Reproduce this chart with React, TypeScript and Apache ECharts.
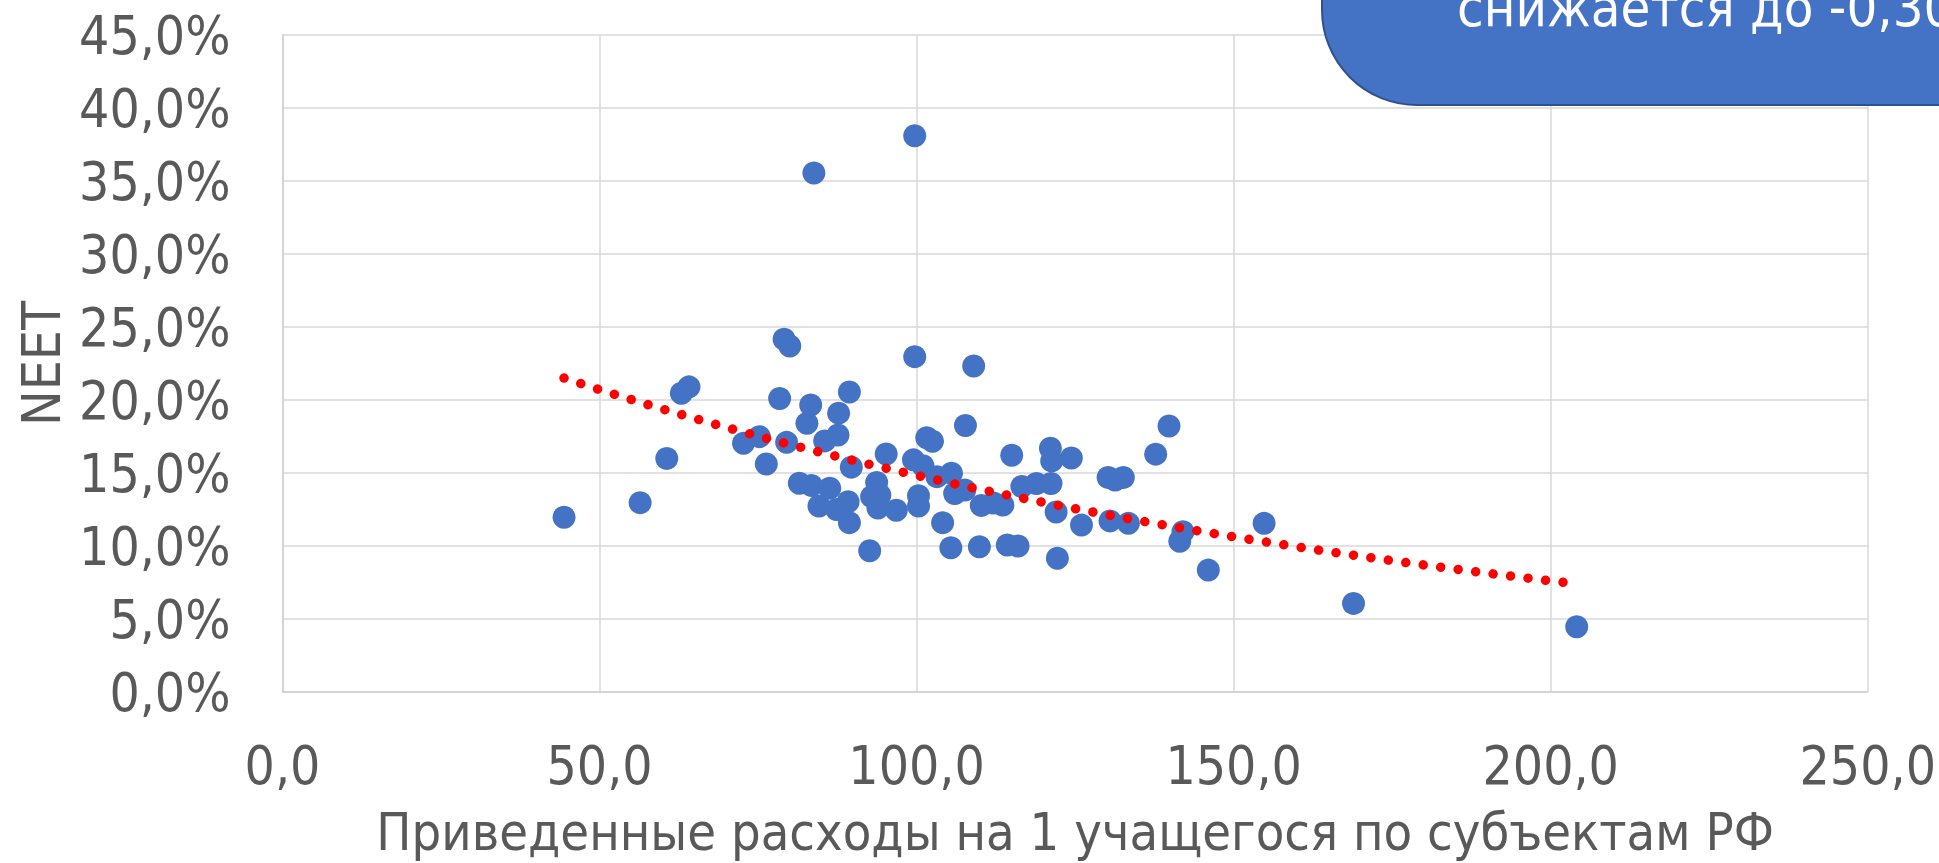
import React, { useEffect, useRef } from "react";
import * as echarts from "echarts";

// Приведенные расходы на 1 учащегося (x) и доля NEET, % (y)
const xValues: number[] = [
  44.4, 56.4, 60.6, 62.9, 64.1, 72.7, 75.2, 76.3, 78.4, 79.1,
  80.0, 79.5, 81.5, 82.7, 83.3, 83.4, 83.8, 84.6, 85.5, 86.3,
  87.4, 87.6, 87.7, 89.2, 89.4, 89.4, 89.7, 92.6, 92.9, 93.7,
  94.2, 93.9, 95.2, 96.8, 99.5, 99.7, 99.7, 100.3, 100.3, 101.0,
  101.6, 102.5, 103.2, 104.1, 105.4, 105.5, 106.0, 107.6, 107.7, 109.0,
  109.9, 110.2, 112.1, 113.6, 114.3, 115.0, 116.0, 116.6, 118.9, 121.2,
  121.1, 121.3, 122.0, 122.2, 124.4, 126.0, 130.2, 131.3, 132.6, 130.5,
  133.4, 137.7, 139.8, 141.5, 142.0, 146.0, 154.8, 168.9, 204.1,
];
const yValues: number[] = [
  11.97, 12.97, 16.0, 20.46, 20.9, 17.03, 17.49, 15.62, 20.1, 24.16,
  23.7, 17.1, 14.3, 18.4, 19.66, 14.15, 35.55, 12.74, 17.2, 13.95,
  12.5, 17.6, 19.1, 13.03, 20.55, 11.6, 15.4, 9.67, 13.38, 14.35,
  13.5, 12.6, 16.3, 12.45, 15.9, 22.97, 38.1, 13.45, 12.74, 15.5,
  17.42, 17.18, 14.75, 11.6, 9.88, 14.98, 13.6, 13.84, 18.25, 22.33,
  9.95, 12.78, 12.95, 12.8, 10.07, 16.22, 10.0, 14.08, 14.28, 14.28,
  16.7, 15.83, 12.33, 9.16, 16.03, 11.43, 14.7, 14.52, 14.7, 11.72,
  11.55, 16.29, 18.22, 10.32, 10.98, 8.35, 11.55, 6.07, 4.47,
];

const xTicks = { min: 0, max: 250, interval: 50 };
const yTicks = { min: 0, max: 45, interval: 5 };

const xTitle = "Приведенные расходы на 1 учащегося по субъектам РФ";
const yTitle = "NEET";
const calloutText = "снижается до -0,30";

const FONT = '"DejaVu Sans Condensed", "DejaVu Sans", sans-serif';

// Exponential trendline (as in Excel): least squares on ln(y)
function expTrend(xs: number[], ys: number[], steps: number): number[][] {
  const n = xs.length;
  let sx = 0, sy = 0, sxx = 0, sxy = 0;
  for (let i = 0; i < n; i++) {
    const ly = Math.log(ys[i]);
    sx += xs[i];
    sy += ly;
    sxx += xs[i] * xs[i];
    sxy += xs[i] * ly;
  }
  const b = (n * sxy - sx * sy) / (n * sxx - sx * sx);
  const a = (sy - b * sx) / n;
  const x0 = Math.min(...xs);
  const x1 = Math.max(...xs);
  const out: number[][] = [];
  for (let k = 0; k <= steps; k++) {
    const x = x0 + ((x1 - x0) * k) / steps;
    out.push([x, Math.exp(a + b * x)]);
  }
  return out;
}

const fmt1 = (v: number) => v.toFixed(1).replace(".", ",");

export default function App() {
  const ref = useRef<HTMLDivElement>(null);
  useEffect(() => {
    if (!ref.current) return;
    const chart = echarts.init(ref.current, undefined, { renderer: "svg" });
    const points = xValues.map((x, i) => [x, yValues[i]]);
    const trend = expTrend(xValues, yValues, 200);
    chart.setOption({
      animation: false,
      textStyle: { fontFamily: FONT },
      grid: { left: 282.5, right: 71, top: 35, bottom: 171, containLabel: false },
      xAxis: {
        type: "value",
        min: xTicks.min,
        max: xTicks.max,
        interval: xTicks.interval,
        axisLine: { show: true, onZero: false, lineStyle: { color: "#d0d0d0", width: 1.5 } },
        axisTick: { show: false },
        splitLine: { show: true, lineStyle: { color: "#d9d9d9", width: 1.5 } },
        axisLabel: {
          formatter: (v: number) => fmt1(v),
          color: "#595959",
          fontSize: 53,
          fontFamily: FONT,
          margin: 47,
        },
        name: xTitle,
        nameLocation: "middle",
        nameGap: 114,
        nameTextStyle: { color: "#595959", fontSize: 52, fontFamily: FONT },
      },
      yAxis: {
        type: "value",
        min: yTicks.min,
        max: yTicks.max,
        interval: yTicks.interval,
        axisLine: { show: true, onZero: false, lineStyle: { color: "#d0d0d0", width: 1.5 } },
        axisTick: { show: false },
        splitLine: { show: true, lineStyle: { color: "#d9d9d9", width: 1.5 } },
        axisLabel: {
          formatter: (v: number) => fmt1(v) + "%",
          color: "#595959",
          fontSize: 53,
          fontFamily: FONT,
          margin: 52,
        },
        name: yTitle,
        nameLocation: "middle",
        nameRotate: 90,
        nameGap: 215,
        nameTextStyle: { color: "#595959", fontSize: 53, fontFamily: FONT },
      },
      series: [
        {
          type: "scatter",
          data: points,
          symbol: "circle",
          symbolSize: 23,
          itemStyle: { color: "#4472C4", opacity: 1 },
          z: 2,
        },
        {
          type: "line",
          data: trend,
          showSymbol: false,
          symbol: "none",
          smooth: false,
          lineStyle: { color: "#FF0000", width: 9.5, type: [0.01, 17.6], cap: "round", opacity: 1 },
          z: 3,
        },
      ],
      graphic: [
        {
          type: "rect",
          shape: { x: 1322, y: -200, width: 800, height: 305, r: 95 },
          style: { fill: "#4472C4", stroke: "#2F528F", lineWidth: 2 },
          z: 10,
        },
        {
          type: "text",
          x: 1457,
          y: 7,
          style: {
            text: calloutText,
            fill: "#ffffff",
            font: '54px "DejaVu Sans Condensed", "DejaVu Sans", sans-serif',
            verticalAlign: "middle",
            align: "left",
          },
          z: 11,
        },
      ],
    });
    return () => chart.dispose();
  }, []);
  return (
    <div
      ref={ref}
      style={{ position: "fixed", left: 0, top: 0, width: 1939, height: 863 }}
    />
  );
}
